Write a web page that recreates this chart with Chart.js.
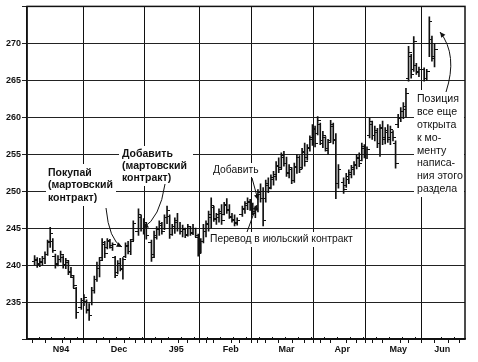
<!DOCTYPE html>
<html><head><meta charset="utf-8">
<script src="https://cdn.jsdelivr.net/npm/chart.js@4/dist/chart.umd.min.js"></script>
<style>html,body{margin:0;padding:0;background:#fff}canvas{display:block}</style>
</head><body>
<canvas id="c" width="478" height="362"></canvas>
<script>
// weekday index 0 = 1 Nov 1994; null = exchange holiday
const high = [241.3,241.0,240.9,241.2,241.8,243.4,245.1,243.6,241.5,241.3,241.9,241.3,240.9,240.6,239.7,238.6,237.0,null,235.5,236.0,235.3,234.8,
237.0,238.5,240.4,241.0,243.6,243.2,243.6,243.5,243.0,241.2,240.6,240.9,241.0,243.0,243.2,243.5,246.0,null,247.6,246.8,246.3,245.8,
null,243.4,244.6,245.2,246.0,245.8,246.8,248.0,246.8,245.5,246.4,247.0,245.8,245.4,245.0,245.5,245.2,245.5,245.0,244.2,243.6,245.5,
246.0,247.3,249.1,248.0,247.0,247.6,248.2,248.5,249.0,248.2,247.0,246.8,246.4,null,248.0,248.6,249.1,248.9,248.4,248.0,
250.2,251.0,250.5,251.5,251.8,252.2,252.7,254.0,254.5,255.2,255.4,254.6,253.6,253.2,253.8,255.0,254.8,255.8,256.5,256.3,257.5,259.0,258.8,
260.1,259.2,258.1,257.4,257.0,259.6,259.2,257.8,253.6,null,251.8,252.4,252.9,253.5,254.0,255.0,255.2,256.5,256.3,256.0,
259.9,259.5,258.8,258.5,259.0,259.5,258.6,259.0,258.8,258.2,256.8,260.4,261.3,262.0,263.9,269.6,268.5,270.9,267.3,266.8,null,266.7,266.5,
273.6,271.0,270.0];
const low = [240.0,239.7,239.8,240.0,240.2,241.3,242.4,241.7,239.6,239.9,240.4,239.6,239.5,238.7,238.3,236.9,232.8,null,234.0,234.5,233.5,232.5,
234.6,236.2,237.8,238.4,240.6,241.0,242.2,242.3,242.0,238.3,238.8,239.2,238.1,241.0,241.5,241.4,243.3,null,244.0,244.6,244.2,243.5,
null,240.5,241.0,243.5,244.0,244.2,244.8,245.6,243.6,244.0,244.3,244.6,244.2,243.8,243.7,243.9,244.0,244.1,243.8,241.2,241.6,243.0,
243.8,244.6,245.0,245.9,245.5,245.8,245.5,246.8,247.0,246.3,245.8,245.3,245.4,null,246.6,247.0,247.5,247.4,246.8,246.4,
247.2,248.5,245.3,248.5,249.8,250.3,250.8,251.5,252.5,253.0,253.4,252.0,251.8,251.0,251.2,252.4,252.5,253.0,253.4,254.2,255.4,256.2,256.0,
257.6,256.3,255.9,255.4,255.0,256.6,256.4,249.0,250.4,null,249.7,250.5,251.0,251.8,252.2,253.0,253.3,254.1,254.5,254.4,
257.2,257.0,256.8,255.9,254.7,256.3,256.4,256.6,256.3,256.8,253.1,258.6,259.4,259.8,260.0,264.9,265.3,266.2,265.8,265.5,null,264.9,265.0,
268.2,267.6,266.8];
const open = [240.5,240.6,240.1,240.4,240.9,241.5,243.2,243.2,241.2,240.1,240.7,241.0,240.1,240.3,239.2,238.3,236.8,null,234.3,235.0,235.1,234.0,
235.0,236.5,238.0,239.5,241.0,242.8,242.4,243.2,242.4,241.0,239.0,240.0,239.4,241.2,242.5,241.8,243.4,null,244.5,246.5,245.0,245.5,
null,243.0,241.5,243.8,245.0,245.4,245.0,246.4,246.6,244.2,245.0,245.8,245.0,244.5,244.8,244.2,245.0,244.4,244.9,243.8,241.8,243.2,
244.5,245.5,246.5,247.8,246.2,246.5,247.0,246.9,248.0,247.5,246.5,246.0,245.8,null,246.8,247.5,248.0,248.6,247.8,247.0,
247.5,249.5,249.0,249.0,250.8,250.5,251.6,252.0,253.4,253.2,254.5,253.8,252.5,253.0,251.5,253.2,254.5,253.2,255.3,254.5,255.8,257.0,258.4,
257.8,259.0,256.5,257.2,255.5,256.8,258.8,257.0,251.0,null,251.2,250.8,251.6,252.2,253.0,253.5,254.4,254.2,255.8,255.0,
257.5,259.0,257.6,258.0,256.5,258.5,257.2,258.0,257.2,258.0,256.5,259.0,259.8,260.8,261.0,265.2,268.2,266.5,267.0,266.0,null,266.5,265.3,
270.0,270.5,268.0];
const close = [240.8,240.2,240.5,240.9,241.4,243.0,244.3,242.0,240.2,240.8,241.5,240.0,240.6,239.0,238.6,237.2,233.6,null,235.2,235.6,233.9,233.2,
236.6,238.0,240.0,240.6,243.0,241.6,243.3,242.6,242.8,238.6,240.2,239.5,240.8,242.6,241.8,243.2,245.6,null,246.8,245.0,245.8,244.0,
null,241.0,244.0,244.8,245.6,244.6,246.5,247.4,244.2,245.2,246.0,245.0,244.5,245.0,244.0,245.2,244.3,245.0,244.0,241.6,243.2,245.0,
245.6,246.8,248.0,246.3,246.8,247.2,246.0,248.2,247.4,246.6,246.2,245.6,246.0,null,247.7,248.3,248.5,247.8,247.2,247.6,
249.8,249.0,246.0,251.0,250.3,251.8,252.2,253.5,253.0,254.8,253.8,252.4,253.2,251.4,253.4,254.6,253.0,255.4,254.0,255.9,257.2,258.5,256.5,
259.6,256.8,257.6,255.8,256.6,259.0,256.9,250.0,253.0,null,250.2,252.0,252.5,253.2,253.6,254.6,253.8,256.0,255.0,255.6,
259.4,257.5,258.2,256.4,258.6,257.0,258.2,257.0,258.4,257.2,253.8,260.0,260.8,261.5,263.2,268.8,265.8,270.2,266.2,266.5,null,265.2,266.2,
273.0,268.2,269.2];

const monthLabels = ['N94','Dec','J95','Feb','Mar','Apr','May','Jun'];
const monthStarts = [0,22,44,66,86,109,129,152];
const monthCenters = [10.7,33,55,76,97.5,119,140.5,157.5];
const yTickLabels = [235,240,245,250,255,260,265,270];

const bars = [], opens = [], closes = [];
for (let i = 0; i < high.length; i++) {
  if (high[i] === null) continue;
  bars.push({x: i + 0.5, y: [low[i], high[i]]});
  opens.push({x: i + 0.5, y: open[i]});
  closes.push({x: i + 0.5, y: close[i]});
}
function tickImg(side) {
  const c = document.createElement('canvas');
  c.width = 6; c.height = 1;
  const g = c.getContext('2d');
  g.fillStyle = '#111';
  if (side === 'left') g.fillRect(0, 0, 3, 1); else g.fillRect(3, 0, 3, 1);
  return c;
}
// x tick set: boundaries (grid), centers (labels), weekly marks
const xTicks = new Map();
for (let k = 2; k < 165; k += 5) xTicks.set(k, 'w');
monthStarts.slice(1).forEach(v => xTicks.set(v, 'b'));
monthCenters.forEach((v, i) => xTicks.set(v, 'c' + i));

const frame = {
  id: 'frame',
  afterDraw(chart) {
    const {ctx, chartArea: a} = chart;
    const xs = chart.scales.x;
    ctx.save();
    ctx.strokeStyle = '#111';
    ctx.lineWidth = 1.5;
    ctx.strokeRect(a.left, a.top, a.right - a.left, a.bottom - a.top);
    ctx.lineWidth = 1;
    for (const [v, t] of xTicks) {
      if (t !== 'w') continue;
      const px = Math.round(xs.getPixelForValue(v)) + 0.5;
      if (px <= a.left || px >= a.right) continue;
      ctx.beginPath(); ctx.moveTo(px, a.bottom - 2); ctx.lineTo(px, a.bottom); ctx.stroke();
    }
    ctx.restore();
  }
};

function arrowHead(ctx, x, y, ang) {
  const L = 6, w = 0.45;
  ctx.beginPath();
  ctx.moveTo(x, y);
  ctx.lineTo(x - L * Math.cos(ang - w), y - L * Math.sin(ang - w));
  ctx.lineTo(x - L * Math.cos(ang + w), y - L * Math.sin(ang + w));
  ctx.closePath(); ctx.fill();
}
function curveArrow(ctx, x0, y0, cx, cy, x1, y1) {
  ctx.beginPath(); ctx.moveTo(x0, y0); ctx.quadraticCurveTo(cx, cy, x1, y1); ctx.stroke();
  arrowHead(ctx, x1, y1, Math.atan2(y1 - cy, x1 - cx));
}
function textBlock(ctx, lines, x, y0, lh, font, bg) {
  ctx.font = font;
  if (bg) {
    ctx.fillStyle = '#fff';
    ctx.fillRect(bg[0], bg[1], bg[2], bg[3]);
  }
  ctx.fillStyle = '#111';
  ctx.textBaseline = 'middle';
  ctx.textAlign = 'left';
  lines.forEach((l, i) => ctx.fillText(l, x, y0 + i * lh));
}
const notes = {
  id: 'notes',
  afterDraw(chart) {
    const ctx = chart.ctx;
    ctx.save();
    const B = 'bold 10.5px "Liberation Sans", Arial, sans-serif';
    const R = '10.3px "Liberation Sans", Arial, sans-serif';
    const R2 = '10.6px "Liberation Sans", Arial, sans-serif';
    textBlock(ctx, ['Покупай', '(мартовский', 'контракт)'], 48, 173, 12.5, B, [46, 164, 70, 42]);
    textBlock(ctx, ['Добавить', '(мартовский', 'контракт)'], 122, 154, 12, B, [119, 146, 74, 40]);
    textBlock(ctx, ['Добавить'], 213, 170, 12, R, [211, 163, 49, 14]);
    textBlock(ctx, ['Перевод в июльский контракт'], 210, 239, 12, R, [208, 232, 146, 15]);
    textBlock(ctx, ['Позиция', 'все еще', 'открыта', 'к мо-', 'менту', 'написа-', 'ния этого', 'раздела'],
      417, 99, 12.9, R2, [414, 90, 50, 107]);
    ctx.strokeStyle = '#111'; ctx.fillStyle = '#111'; ctx.lineWidth = 1;
    curveArrow(ctx, 106, 208, 109, 240, 122, 247);
    curveArrow(ctx, 165, 184, 160, 218, 143, 228);
    curveArrow(ctx, 252, 178, 255, 189, 258, 200);
    curveArrow(ctx, 247, 232, 252, 218, 257, 205);
    curveArrow(ctx, 446, 92, 458, 55, 440, 32);
    ctx.restore();
  }
};

new Chart(document.getElementById('c'), {
  type: 'bar',
  data: {
    datasets: [
      {type: 'bar', data: bars, backgroundColor: '#111', borderWidth: 0, barThickness: 1, order: 2},
      {type: 'scatter', data: opens, pointStyle: tickImg('left'), pointRadius: 3, order: 1},
      {type: 'scatter', data: closes, pointStyle: tickImg('right'), pointRadius: 3, order: 1}
    ]
  },
  options: {
    responsive: false,
    animation: false,
    devicePixelRatio: 1,
    layout: {padding: {left: 0, right: 13, top: 5, bottom: 0}},
    plugins: {legend: {display: false}, tooltip: {enabled: false}},
    scales: {
      x: {
        type: 'linear', min: -0.6, max: 164.4,
        afterBuildTicks: s => { s.ticks = [...xTicks.keys()].sort((a, b) => a - b).map(v => ({value: v})); },
        afterFit: s => { s.height = 23; },
        grid: {
          color: c => (c.tick && xTicks.get(c.tick.value) === 'b') ? '#111' : 'rgba(0,0,0,0)',
          tickColor: c => (c.tick && String(xTicks.get(c.tick.value)).startsWith('c')) ? 'rgba(0,0,0,0)' : '#111',
          tickLength: 4, lineWidth: 1
        },
        border: {display: true, color: '#111', width: 1.5},
        ticks: {
          autoSkip: false, maxRotation: 0, padding: 1, color: '#111',
          font: {family: '"Liberation Sans", Arial, sans-serif', size: 9, weight: 'bold'},
          callback: v => { const t = xTicks.get(v); return (t && t[0] === 'c') ? monthLabels[+t.slice(1)] : ''; }
        }
      },
      y: {
        type: 'linear', min: 230, max: 275, position: 'left',
        afterBuildTicks: s => { s.ticks = [230, ...yTickLabels, 275].map(v => ({value: v})); },
        afterFit: s => { s.width = 27; },
        grid: {color: '#222', lineWidth: 1, tickLength: 5},
        border: {display: true, color: '#111', width: 1.5},
        ticks: {
          padding: 1, color: '#111',
          font: {family: '"Liberation Sans", Arial, sans-serif', size: 9, weight: 'bold'},
          callback: v => yTickLabels.includes(v) ? String(v) : ''
        }
      }
    }
  },
  plugins: [frame, notes]
});
</script>
</body></html>
